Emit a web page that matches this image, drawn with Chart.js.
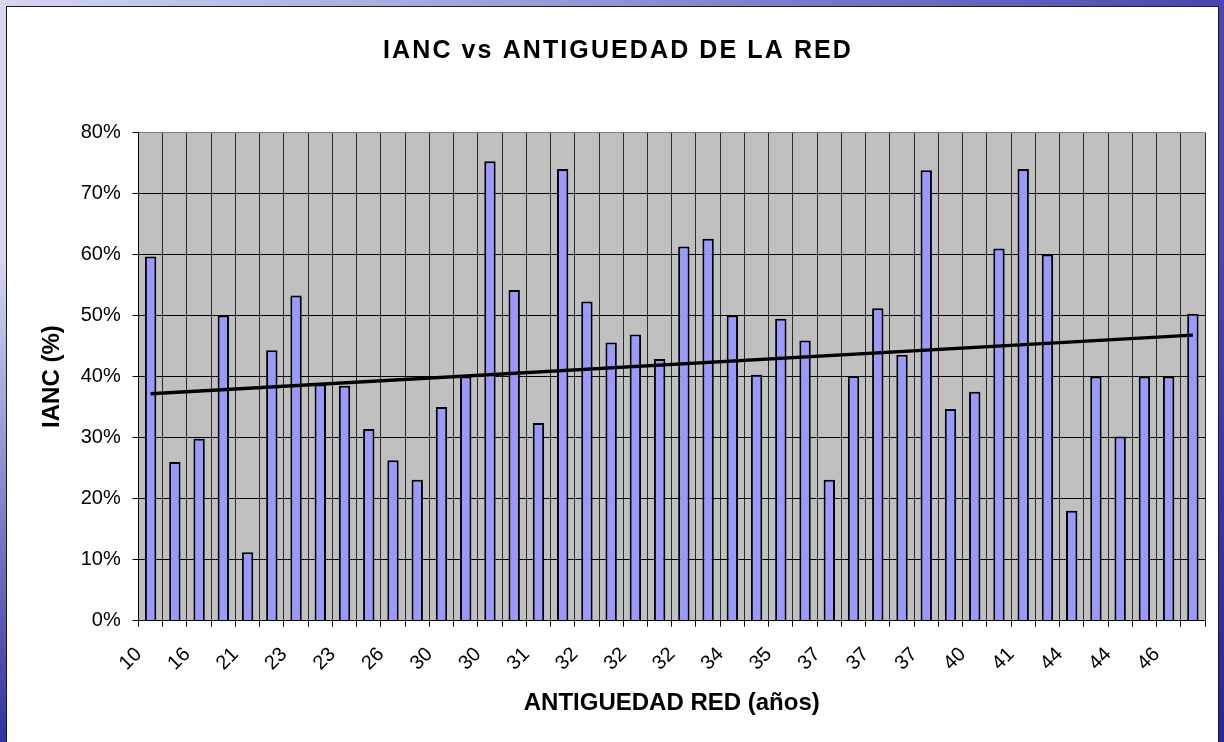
<!DOCTYPE html>
<html>
<head>
<meta charset="utf-8">
<script src="https://cdn.jsdelivr.net/npm/chart.js@4.4.1/dist/chart.umd.min.js"></script>
<style>
  html, body { margin: 0; padding: 0; }
  body {
    width: 1224px; height: 742px; overflow: hidden; position: relative;
    background:
      linear-gradient(to bottom, rgba(35,35,155,0) 0%, rgba(35,35,155,0) 35%, rgba(35,35,155,0.92) 100%),
      linear-gradient(to right, #d6d6f0 0%, #9a9ad8 45%, #4646ac 100%);
  }
  #frame {
    position: absolute; left: 6px; top: 6px; width: 1213px; height: 760px;
    background: #fff; border: 1.5px solid #1a1a2a; box-sizing: border-box;
  }
  #c { position: absolute; left: 8px; top: 8px; }
</style>
</head>
<body>
<div id="frame"></div>
<canvas id="c" width="1212" height="734"></canvas>
<script>
// ---- data ----
const chartTitle = 'IANC vs ANTIGUEDAD DE LA RED';
const xAxisTitle = 'ANTIGUEDAD RED (años)';
const yAxisTitle = 'IANC (%)';

// antigüedad de la red (años) – every other label is shown on the axis
const antiguedad = [10, 14, 16, 18, 21, 22, 23, 23, 23, 25, 26, 28, 30, 30, 30, 30, 31, 31, 32, 32, 32, 32,
                    32, 33, 34, 35, 35, 36, 37, 37, 37, 37, 37, 38, 40, 40, 41, 42, 44, 44, 44, 45, 46, 47];

// IANC (%)
const ianc = [59.7, 26.0, 29.8, 50.0, 11.2, 44.3, 53.3, 38.7, 38.5, 31.4, 26.3, 23.1, 35.0, 40.0, 75.3,
              54.2, 32.4, 74.0, 52.3, 45.6, 46.9, 42.9, 61.3, 62.6, 50.0, 40.3, 49.5, 45.9, 23.1, 40.1,
              51.2, 43.6, 73.8, 34.7, 37.5, 61.0, 74.0, 60.0, 18.0, 40.0, 30.2, 40.0, 40.0, 50.3];

// linear trend line: value at first and last category
const trendStart = 37.2;
const trendEnd = 46.8;

const yTicks = [0, 10, 20, 30, 40, 50, 60, 70, 80];

// ---- build ----
const trend = antiguedad.map((_, i) => i === 0 ? trendStart : (i === antiguedad.length - 1 ? trendEnd : null));

const FONT = '"Liberation Sans", Arial, sans-serif';

const plotBg = {
  id: 'plotBg',
  beforeDraw(chart) {
    const { ctx, chartArea: a } = chart;
    ctx.save();
    ctx.fillStyle = '#C0C0C0';
    ctx.fillRect(a.left, a.top, a.right - a.left, a.bottom - a.top);
    ctx.restore();
  }
};

const titleDraw = {
  id: 'titleDraw',
  afterDraw(chart) {
    const ctx = chart.ctx;
    ctx.save();
    ctx.font = 'bold 25px ' + FONT;
    ctx.fillStyle = '#000';
    ctx.textAlign = 'center';
    ctx.textBaseline = 'middle';
    if ('letterSpacing' in ctx) ctx.letterSpacing = '2.1px';
    ctx.fillText(chartTitle, 610, 43);
    ctx.restore();
  }
};

new Chart(document.getElementById('c'), {
  type: 'bar',
  data: {
    labels: antiguedad,
    datasets: [
      {
        type: 'line',
        label: 'Lineal (IANC)',
        data: trend,
        spanGaps: true,
        borderColor: '#000',
        borderWidth: 3.4,
        pointRadius: 0,
        tension: 0,
        order: 0
      },
      {
        type: 'bar',
        label: 'IANC',
        data: ianc,
        backgroundColor: '#9999FF',
        borderColor: '#000',
        borderWidth: 2,
        barPercentage: 0.47,
        categoryPercentage: 1.0,
        order: 1
      }
    ]
  },
  options: {
    responsive: false,
    animation: false,
    devicePixelRatio: 1,
    layout: { padding: { top: 124.5, right: 15, left: 0, bottom: 0 } },
    plugins: {
      legend: { display: false },
      tooltip: { enabled: false },
      title: { display: false }
    },
    scales: {
      x: {
        grid: {
          offset: true,
          color: (c) => c.index === antiguedad.length ? '#808080' : '#2a2a2a',
          lineWidth: 1,
          drawTicks: true,
          tickLength: 6,
          tickColor: '#000'
        },
        border: { display: true, color: '#000', width: 1 },
        ticks: {
          autoSkip: false,
          minRotation: 45,
          maxRotation: 45,
          padding: 16,
          labelOffset: -12,
          color: '#000',
          font: { family: FONT, size: 20 },
          callback: function (value, index) { return index % 2 === 0 ? String(antiguedad[index]) : ''; }
        },
        title: {
          display: true,
          text: xAxisTitle,
          color: '#000',
          font: { family: FONT, size: 24, weight: 'bold' },
          padding: { top: 0, bottom: 24.6 }
        },
        afterFit(scale) {
          scale.height = 121.3;
          scale.paddingRight = 0;
          scale.paddingLeft = 0;
        }
      },
      y: {
        min: 0,
        max: 80,
        afterBuildTicks(scale) { scale.ticks = yTicks.map(v => ({ value: v })); },
        grid: {
          color: (c) => (c.tick && c.tick.value === 80) ? '#808080' : '#000',
          lineWidth: 1,
          drawTicks: true,
          tickLength: 6,
          tickColor: '#000'
        },
        border: { display: true, color: '#000', width: 1 },
        ticks: {
          padding: 11.8,
          color: '#000',
          font: { family: FONT, size: 20 },
          callback: (v) => v + '%'
        },
        title: {
          display: true,
          text: yAxisTitle,
          color: '#000',
          font: { family: FONT, size: 24, weight: 'bold' },
          padding: { top: 29.6, bottom: 0 }
        },
        afterFit(scale) { scale.width = 130.5; }
      }
    }
  },
  plugins: [plotBg, titleDraw]
});
</script>
</body>
</html>
